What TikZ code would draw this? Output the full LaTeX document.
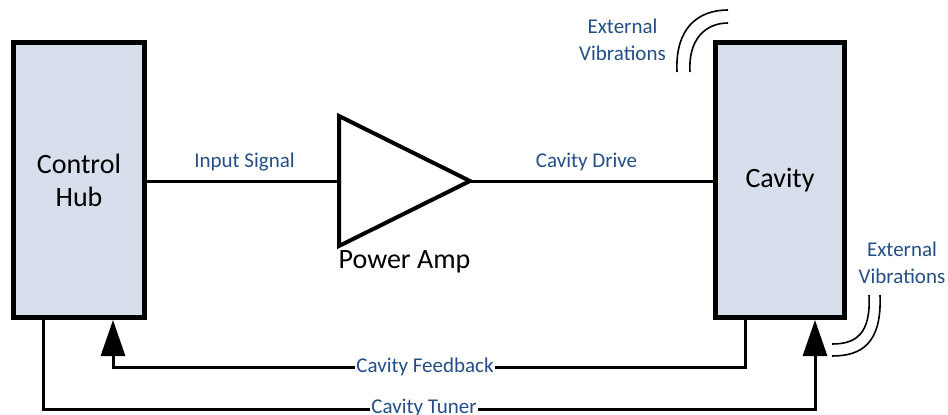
\documentclass[tikz,border=0pt]{standalone}
\usepackage{fontspec}
\setmainfont{Carlito}
\usetikzlibrary{arrows.meta}
\definecolor{boxfill}{RGB}{214,223,235}
\definecolor{lblblue}{RGB}{36,78,135}
\tikzset{
  blockbox/.style={draw=black, fill=boxfill, line width=5pt, rectangle,
    minimum width=129pt, minimum height=275pt, inner sep=0pt, align=center,
    font=\fontsize{28}{33}\selectfont},
  conn/.style={draw=black, line width=3pt},
  fbarrow/.style={-{Triangle[length=36pt,width=24pt]}},
  lbl/.style={text=lblblue, font=\fontsize{21}{27}\selectfont, inner sep=0pt, align=center},
  linelbl/.style={lbl, fill=white, inner xsep=1.5pt, inner ysep=0pt},
  vib/.style={draw=black, line width=1.6pt},
  ampstyle/.style={draw=black, line width=4pt, line join=miter}
}
\begin{document}
\begin{tikzpicture}[x=1pt,y=-1pt]
\useasboundingbox (0,0) rectangle (948,415);
% blocks
\node[blockbox, minimum width=131pt] (hub) at (79,180) {Control\\Hub};
\node[blockbox] (cav) at (780,180) {\raisebox{-2pt}{Cavity}};
% amplifier
\coordinate (ampin) at (339,181);
\coordinate (ampout) at (470,181);
\draw[ampstyle] (339,116) -- (ampout) -- (339,246) -- cycle;
\node[font=\fontsize{28}{33}\selectfont, inner sep=0pt, anchor=base] (amplbl) at (404.5,268) {Power Amp};
% forward path
\draw[conn] (ampin -| hub.east) -- (ampin);
\draw[conn] (ampout) -- (ampout -| cav.west);
\node[lbl, anchor=base] (inlbl) at (244.5,167) {Input Signal};
\node[lbl, anchor=base] (drvlbl) at (586.5,167) {Cavity Drive};
% feedback
\coordinate (fbcorner) at (113,367);
\draw[conn, fbarrow] ([xshift=-35pt]cav.south) |- (fbcorner) -- ([xshift=34pt]hub.south);
\node[linelbl, anchor=base] (fblbl) at (425,372) {Cavity Feedback};
% tuner
\coordinate (tncorner) at (815,409);
\draw[conn, fbarrow] ([xshift=-36pt]hub.south) |- (tncorner) -- ([xshift=35pt]cav.south);
\node[linelbl, anchor=base] (tnlbl) at (424,413.5) {Cavity Tuner};
% external vibrations (top)
\node[lbl, anchor=base] (ext1) at (622.5,60) {External\\Vibrations};
\draw[vib] (677,72) .. controls (675,28) and (698,10) .. (728,10);
\draw[vib] (690,72) .. controls (688,40) and (705,23) .. (728,23);
% external vibrations (bottom right)
\node[lbl, anchor=base] (ext2) at (902,283) {External\\Vibrations};
\draw[vib] (869,295) .. controls (871,334) and (856,344) .. (832,344);
\draw[vib] (880,295) .. controls (882,344) and (861,356) .. (832,356);
\end{tikzpicture}
\end{document}
